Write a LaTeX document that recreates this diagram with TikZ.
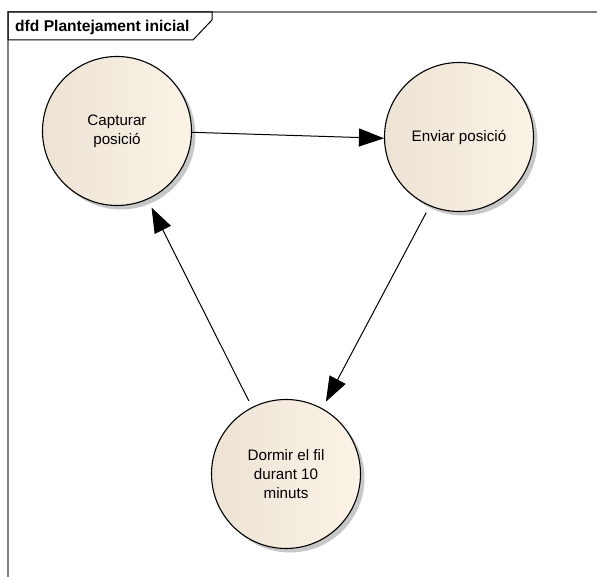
\documentclass[tikz,border=0pt]{standalone}
\usepackage{fontspec}
\setmainfont{Liberation Sans}
\usetikzlibrary{arrows.meta,shadows}
\definecolor{procL}{RGB}{236,227,213}
\definecolor{procR}{RGB}{251,243,230}
\definecolor{frameGray}{RGB}{128,128,128}
\tikzset{
  process/.style={circle, draw=black, line width=1.1pt, minimum size=149pt, inner sep=0pt,
    left color=procL, right color=procR, align=center,
    font=\fontsize{15.2}{18.8}\selectfont,
    drop shadow={shadow xshift=4pt, shadow yshift=-4pt, fill=black!22, opacity=1}},
  flow/.style={draw=black, line width=1pt, -{Triangle[length=25pt,width=18pt]}},
  tabline/.style={draw=black, line width=1pt},
  frameline/.style={draw=frameGray, line width=1.6pt}
}
\begin{document}
\begin{tikzpicture}[x=1pt,y=1pt]
  \useasboundingbox (0,0) rectangle (597,577);
  % diagram frame (open to the right and bottom)
  \draw[frameline] (8,0) -- (8,565) -- (597,565);
  % name tab
  \draw[tabline] (8,565) -- (212,565) -- (212,557) -- (193,537) -- (8,537) -- cycle;
  \node[anchor=west, font=\bfseries\fontsize{15.6}{18}\selectfont, inner sep=0pt] (title) at (15,550) {dfd Plantejament inicial};

  % processes
  \node[process] (cap) at (117,446) {Capturar\\posició};
  \node[process] (env) at (459,440) {Enviar posició};
  \node[process] (dor) at (286,103) {Dormir el fil\\durant 10\\minuts};

  % data flows
  \draw[flow] (cap.-1.5) -- (env.181);
  \draw[flow, shorten <=7.5pt, shorten >=7.5pt] (env.247.8) -- (dor.61);
  \draw[flow, shorten <=7pt, shorten >=9pt] (dor.117.8) -- (cap.294.4);
\end{tikzpicture}
\end{document}
